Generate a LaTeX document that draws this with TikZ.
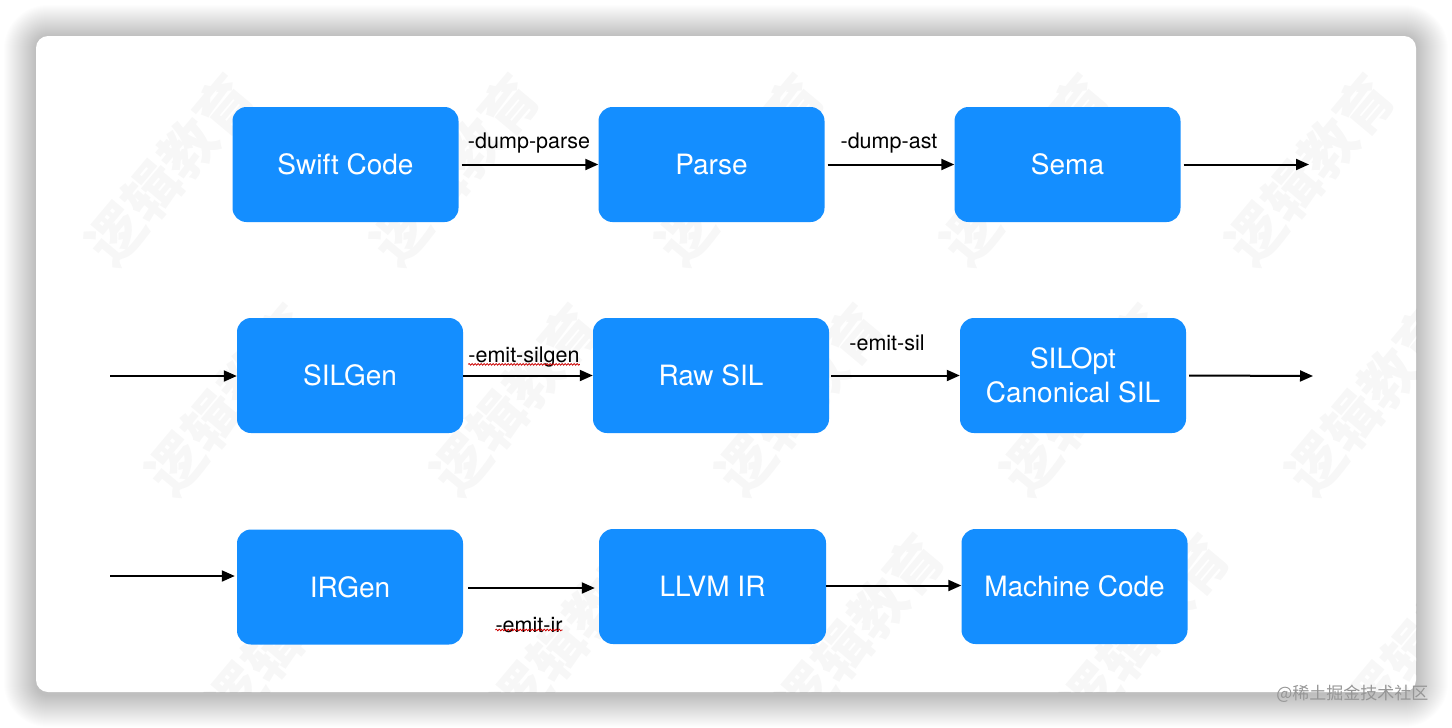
\documentclass[tikz,border=0pt]{standalone}
\usepackage{fontspec}
\setmainfont{TeX Gyre Heros}
\newfontfamily\cjkfont{Noto Sans CJK SC}
\usetikzlibrary{arrows.meta,decorations.pathmorphing}

\definecolor{stageblue}{RGB}{20,142,255}
\definecolor{markgray}{RGB}{150,150,150}

\begin{document}
\begin{tikzpicture}[x=1pt,y=-1pt,
  stage/.style={fill=stageblue,text=white,rounded corners=14pt,minimum width=226pt,
    minimum height=115pt,inner sep=0pt,align=center,font=\fontsize{28}{34}\selectfont},
  flow/.style={line width=2pt,-{Triangle[length=13pt,width=11pt]}},
  flag/.style={inner sep=0pt,font=\fontsize{21.5}{24}\selectfont},
  squiggle/.style={red!80!black,line width=0.8pt,decorate,
    decoration={snake,amplitude=0.8pt,segment length=3pt}},
  wmark/.style={text=black,text opacity=0.03,rotate=50,font=\cjkfont\bfseries\fontsize{56}{60}\selectfont}]
\useasboundingbox (0,0) rectangle (1452,728);
\fill[white] (0,0) rectangle (1452,728);
% card with its shadow
\foreach \k in {1,...,32}
  \fill[black,opacity=0.0075,rounded corners=12pt+\k pt]
    (36-\k,36-\k+1) rectangle (1416+\k,692+\k+3);
\fill[white,rounded corners=12pt] (36,36) rectangle (1416,692);
% watermark
\begin{scope}
\clip[rounded corners=12pt] (36,36) rectangle (1416,692);
\foreach \i in {0,...,4}
  \foreach \j in {0,...,2}
    \node[wmark] at (\i*285+170+\j*60,\j*230+170) {逻辑教育};
\end{scope}

% first row
\node[stage] (swift) at (345.5,164.5) {Swift Code};
\node[stage] (parse) at (711.5,164.5) {Parse};
\node[stage] (sema) at (1067.5,164.5) {Sema};
% second row
\node[stage] (silgen) at (350,375.5) {SILGen};
\node[stage,minimum width=236pt] (rawsil) at (711,375.5) {Raw SIL};
\node[stage] (silopt) at (1073,375.5) {SILOpt\\Canonical SIL};
% third row
\node[stage,minimum width=226pt] (irgen) at (350,587) {IRGen};
\node[stage,minimum width=227pt] (llvmir) at (712.5,586.5) {LLVM IR};
\node[stage] (machine) at (1074.5,586.5) {Machine Code};

\coordinate (semaout) at (1309,164.5);
\coordinate (silgenin) at (110,376);
\coordinate (siloptout) at (1313,376);
\coordinate (irgenin) at (110,576);
\coordinate (irgenout) at (468,588);

\draw[flow] ([xshift=3pt]swift.east) -- (parse.west);
\draw[flow] ([xshift=3pt]parse.east) -- (sema.west);
\draw[flow] ([xshift=3pt]sema.east) -- (semaout);
\draw[flow] (silgenin) -- (silgen.west |- silgenin);
\draw[flow] (silgen.east) -- (rawsil.west);
\draw[flow] ([xshift=2pt]rawsil.east) -- (silopt.west);
\draw[flow] ([xshift=3pt]silopt.east) -- (siloptout);
\draw[flow] (irgenin) -- ([xshift=-2pt]irgen.west |- irgenin);
\draw[flow] (irgenout) -- ([xshift=-4pt]llvmir.west |- irgenout);
\draw[flow] ([yshift=1pt]llvmir.east) -- ([yshift=1pt]machine.west);

\node[flag] (dparse) at (529,143) {-dump-parse};
\node[flag] (dast) at (889,143) {-dump-ast};
\node[flag] (esilgen) at (524,357) {-emit-silgen};
\node[flag] (esil) at (887,343) {-emit-sil};
\node[flag] (eir) at (529,625) {-emit-ir};
\draw[squiggle] ([yshift=3pt]esilgen.south west) -- ([yshift=3pt]esilgen.south east);
\draw[squiggle] ([yshift=3pt]eir.south west) -- ([yshift=3pt]eir.south east);

\node[text=markgray,font=\cjkfont\fontsize{17}{20}\selectfont,anchor=east] (credit) at (1432,694) {@稀土掘金技术社区};
\end{tikzpicture}
\end{document}
